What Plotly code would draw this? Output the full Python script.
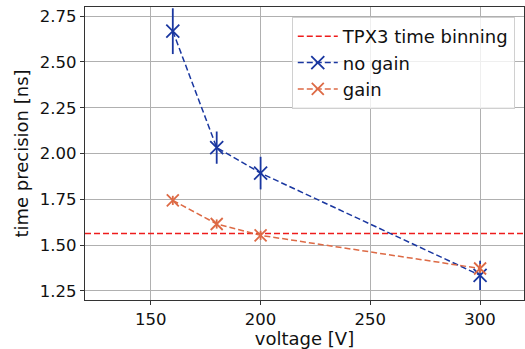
import plotly.graph_objects as go

voltage = [160, 180, 200, 300]
no_gain = [2.668, 2.032, 1.893, 1.335]
no_gain_err = [0.125, 0.088, 0.089, 0.08]
gain = [1.744, 1.615, 1.553, 1.372]
gain_err = [0.025, 0.025, 0.025, 0.025]
tpx3_bin = 1.5625
x_range = [120, 320]

BLUE = "#1a37a0"
ORANGE = "#dd6a45"
RED = "#ee1c1c"
FONT = "DejaVu Sans"
DASH = "6px,3px"

fig = go.Figure()
fig.add_trace(go.Scatter(
    x=x_range, y=[tpx3_bin, tpx3_bin], mode="lines",
    line=dict(color=RED, dash=DASH, width=1.5),
    name="TPX3 time binning"))
fig.add_trace(go.Scatter(
    x=voltage, y=no_gain, mode="lines+markers",
    line=dict(color=BLUE, dash=DASH, width=1.5),
    marker=dict(symbol="x-thin-open", size=13, line=dict(color=BLUE, width=1.8)),
    error_y=dict(type="data", array=no_gain_err, color=BLUE, thickness=1.8, width=0),
    name="no gain"))
fig.add_trace(go.Scatter(
    x=voltage, y=gain, mode="lines+markers",
    line=dict(color=ORANGE, dash=DASH, width=1.5),
    marker=dict(symbol="x-thin-open", size=12, line=dict(color=ORANGE, width=1.8)),
    error_y=dict(type="data", array=gain_err, color=ORANGE, thickness=1.8, width=0),
    name="gain"))

axis_common = dict(
    showgrid=True, gridcolor="#b0b0b0", gridwidth=1,
    showline=True, linecolor="#333333", linewidth=1.2, mirror=True,
    ticks="outside", ticklen=4, tickcolor="#333333",
    zeroline=False,
    tickfont=dict(family=FONT, size=16.5, color="#111111"),
)
fig.update_xaxes(range=x_range, tickvals=[150, 200, 250, 300],
                 title=dict(text="voltage [V]", font=dict(family=FONT, size=18, color="#111111"), standoff=2),
                 **axis_common)
fig.update_yaxes(range=[1.2, 2.8], tickvals=[1.25, 1.5, 1.75, 2.0, 2.25, 2.5, 2.75],
                 tickformat=".2f",
                 title=dict(text="time precision [ns]", font=dict(family=FONT, size=18, color="#111111"), standoff=6),
                 **axis_common)
fig.update_layout(
    width=525, height=349,
    margin=dict(l=85, r=1, t=7, b=49),
    plot_bgcolor="white", paper_bgcolor="white",
    font=dict(family=FONT, size=18, color="#111111"),
    legend=dict(x=0.979, y=0.966, xanchor="right", yanchor="top",
                bgcolor="rgba(255,255,255,0.8)", bordercolor="#d0d0d0", borderwidth=1,
                font=dict(family=FONT, size=18, color="#111111"),
                itemwidth=40, tracegroupgap=0),
    showlegend=True,
)
fig.write_html("out.html")
